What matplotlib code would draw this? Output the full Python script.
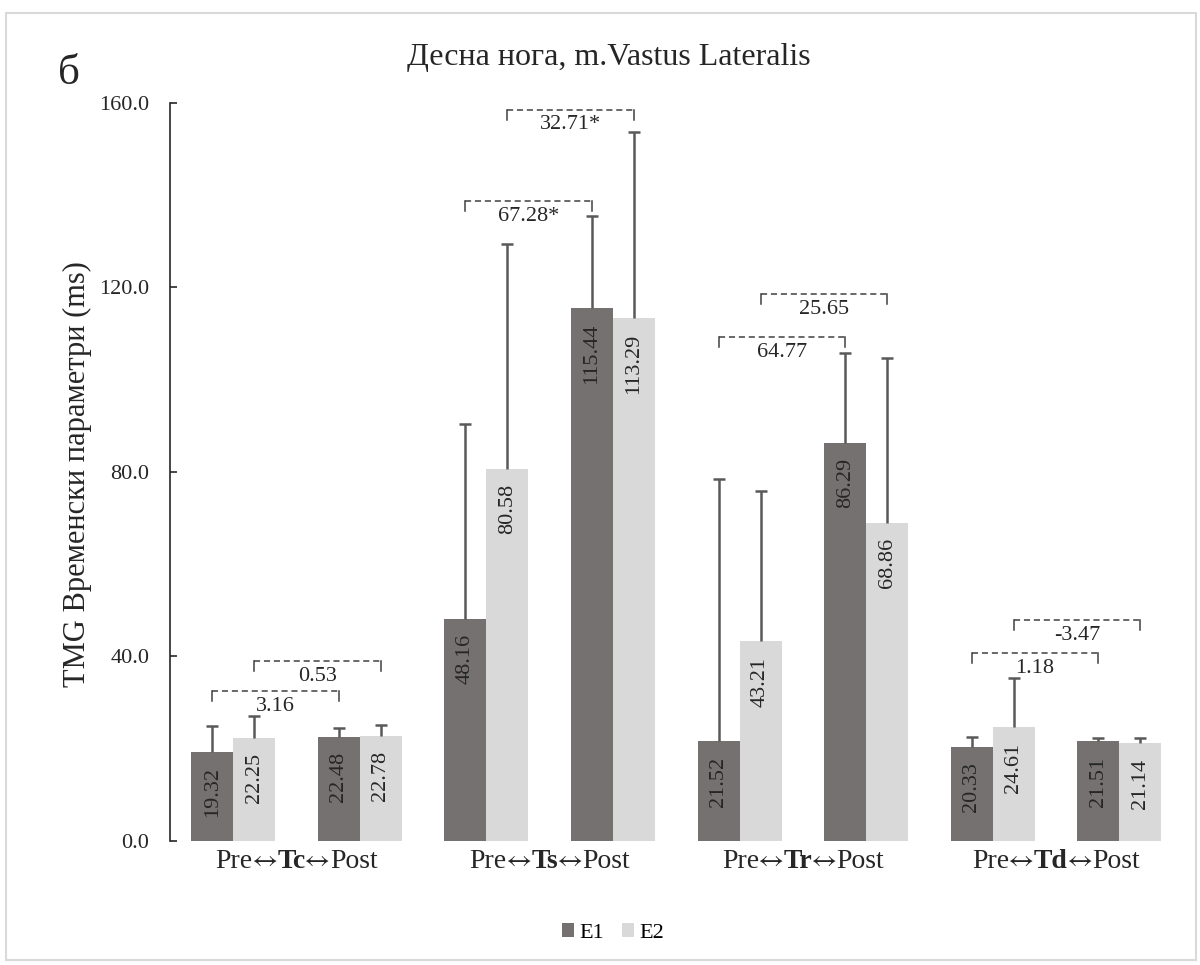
import numpy as np
import matplotlib
matplotlib.use('Agg')
import matplotlib.pyplot as plt
from matplotlib.patches import Patch, Rectangle
from matplotlib.offsetbox import TextArea, HPacker, AnnotationBbox

plt.rcParams['font.family'] = ['Liberation Serif', 'DejaVu Serif']

# data: TMG time parameters, right leg, m. vastus lateralis
params = ['Tc', 'Ts', 'Tr', 'Td']
groups = ['E1', 'E2']
e1_pre = [19.32, 48.16, 21.52, 20.33]
e1_post = [22.48, 115.44, 86.29, 21.51]
e2_pre = [22.25, 80.58, 43.21, 24.61]
e2_post = [22.78, 113.29, 68.86, 21.14]
# upper error bars (SD)
sd_e1_pre = [5.6, 42.2, 57.0, 2.1]
sd_e1_post = [1.9, 20.0, 19.5, 0.7]
sd_e2_pre = [4.85, 48.7, 32.6, 10.6]
sd_e2_post = [2.3, 40.4, 35.8, 1.1]
# pre -> post differences (%)
diff_e1 = ['3.16', '67.28*', '64.77', '1.18']
diff_e2 = ['0.53', '32.71*', '25.65', '-3.47']

# bracket heights (annotation layout)
brk_y_e1 = [32.4, 138.7, 109.2, 40.7]
brk_y_e2 = [38.9, 158.5, 118.5, 47.9]

col_e1 = '#767171'
col_e2 = '#d9d9d9'
col_txt = '#262626'
col_err = '#595959'

# interleave pre/post into 8 slots
e1_vals = np.column_stack([e1_pre, e1_post]).ravel()
e2_vals = np.column_stack([e2_pre, e2_post]).ravel()
e1_sd = np.column_stack([sd_e1_pre, sd_e1_post]).ravel()
e2_sd = np.column_stack([sd_e2_pre, sd_e2_post]).ravel()
slots = np.arange(len(e1_vals))
w = 0.332

fig = plt.figure(figsize=(12, 9.65), dpi=100)
ax = fig.add_axes([170 / 1200, 1 - 840.7 / 965, 1012.6 / 1200, 738 / 965])

for vals, sds, off, col in [(e1_vals, e1_sd, -w / 2, col_e1),
                            (e2_vals, e2_sd, w / 2, col_e2)]:
    xs = slots + off
    ax.bar(xs, vals, w, color=col, edgecolor='none', zorder=2)
    ax.vlines(xs, vals, vals + sds, color=col_err, lw=1.8, zorder=3)
    ax.plot(xs, vals + sds, ls='none', marker='_', ms=8, mew=1.8,
            color=col_err, zorder=3)
    for x, v in zip(xs, vals):
        ax.annotate('%.2f' % v, (x, v), xytext=(0, -11),
                    textcoords='offset points', rotation=90,
                    ha='center', va='top', fontsize=16, color=col_txt,
                    zorder=4)

# dashed brackets pre <-> post
tick_d = 2.2
for i in range(len(params)):
    for off, yb, lab in [(-w / 2, brk_y_e1[i], diff_e1[i]),
                         (w / 2, brk_y_e2[i], diff_e2[i])]:
        x0 = 2 * i + off
        x1 = 2 * i + 1 + off
        ax.plot([x0, x1], [yb, yb], color='#404040', lw=1.1,
                ls=(0, (4, 2.5)), zorder=5)
        ax.plot([x0, x0], [yb - tick_d, yb], color='#404040', lw=1.1, zorder=5)
        ax.plot([x1, x1], [yb - tick_d, yb], color='#404040', lw=1.1, zorder=5)
        ax.annotate(lab, ((x0 + x1) / 2, yb), xytext=(0, -11),
                    textcoords='offset points', ha='center', va='center',
                    fontsize=16, color=col_txt, zorder=5)

ax.set_xlim(-0.5, len(slots) - 0.5)
ax.set_ylim(0, 160)
ax.set_yticks(np.arange(0, 161, 40))
ax.set_yticklabels(['%.1f' % t for t in np.arange(0, 161, 40)])
ax.set_xticks([])
ax.tick_params(axis='y', direction='in', length=5, width=1.2, pad=15,
               labelsize=16, colors=col_txt)
for s in ['top', 'right', 'bottom']:
    ax.spines[s].set_visible(False)
ax.spines['left'].set_color(col_txt)
ax.spines['left'].set_linewidth(1.2)

# category labels: Pre<->(bold param)<->Post
tp = dict(fontsize=20, color=col_txt)
tp_arrow = dict(fontsize=19, color=col_txt, family='STIXGeneral')
for i, p in enumerate(params):
    parts = [TextArea('Pre', textprops=tp),
             TextArea('\u2194', textprops=tp_arrow),
             TextArea(p, textprops=dict(tp, fontweight='bold')),
             TextArea('\u2194', textprops=tp_arrow),
             TextArea('Post', textprops=tp)]
    box = HPacker(children=parts, align='baseline', pad=0, sep=0)
    ab = AnnotationBbox(box, (2 * i + 0.5, 0), xybox=(0, -15),
                        xycoords=('data', 'axes fraction'),
                        boxcoords='offset points', frameon=False,
                        box_alignment=(0.5, 0.5))
    ax.add_artist(ab)

fig.text(77 / 1200, 1 - 474 / 965, 'TMG Временски параметри (ms)',
         rotation=90, ha='center', va='center', fontsize=22, color=col_txt)
fig.text(609 / 1200, 1 - 58 / 965, 'Десна нога, m.Vastus Lateralis',
         ha='center', va='center', fontsize=23, color=col_txt)
fig.text(69 / 1200, 1 - 74 / 965, 'б', ha='center', va='center',
         fontsize=31, color=col_txt)

handles = [Patch(facecolor=col_e1), Patch(facecolor=col_e2)]
fig.legend(handles, groups, loc='center', bbox_to_anchor=(613 / 1200, 1 - 933 / 965),
           ncol=2, frameon=False, fontsize=16, handlelength=0.55,
           handleheight=0.55, handletextpad=0.25, columnspacing=0.8)

# light frame round the chart area
fig.patches.append(Rectangle((6 / 1200, 1 - 960 / 965), 1190 / 1200, 947 / 965,
                             transform=fig.transFigure, fill=False,
                             edgecolor='#d9d9d9', lw=1.5))

fig.savefig('out.png', dpi=100)
